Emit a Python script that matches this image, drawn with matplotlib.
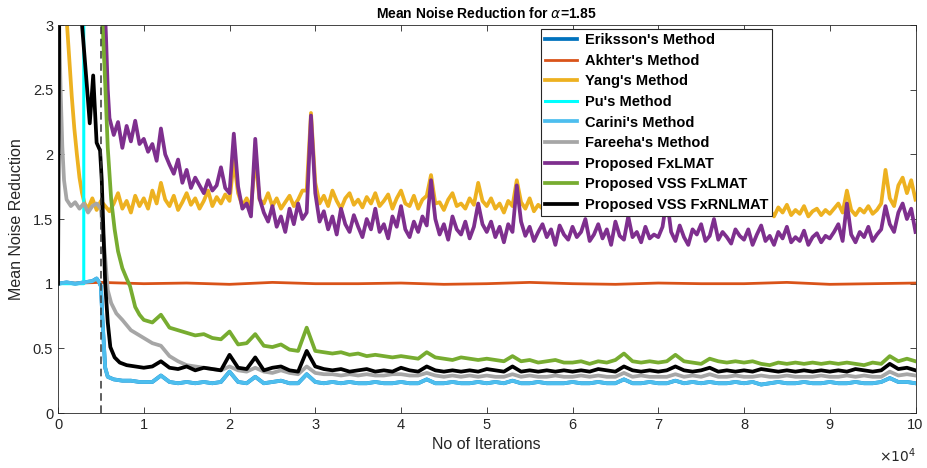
import numpy as np
import matplotlib.pyplot as plt

plt.rcParams['font.family'] = ['Liberation Sans', 'DejaVu Sans']

# sample grids (iterations)
fine_it = np.arange(6000, 100001, 500)      # 189 points
coarse_it = np.arange(10000, 100001, 1000)  # 91 points

# Yang's Method
yang_early_it = [800, 1000, 1300, 1600, 1900, 2200, 2500, 2800, 3100, 3500, 4000, 4500, 5000, 5500]
yang_early = [3.4, 3.05, 2.75, 2.45, 2.2, 2.0, 1.82, 1.7, 1.62, 1.58, 1.66, 1.57, 1.64, 1.6]
yang_tail = [1.56, 1.62, 1.70, 1.58, 1.64, 1.55, 1.68, 1.60,
             1.66, 1.58, 1.72, 1.62, 1.78, 1.65, 1.60, 1.68, 1.57, 1.63, 1.70, 1.61, 1.66, 1.58, 1.64, 1.72, 1.60, 1.67, 1.62, 1.69,
             1.64, 1.95, 1.70, 1.60, 1.66, 1.58, 1.98, 1.65, 1.62, 1.70, 1.60, 1.66, 1.58, 1.63, 1.68, 1.60, 1.65, 1.72, 1.72, 2.32,
             1.78, 1.62, 1.68, 1.60, 1.72, 1.64, 1.58, 1.66, 1.70, 1.61, 1.65, 1.59, 1.67, 1.62, 1.70, 1.60, 1.64, 1.69, 1.58, 1.66,
             1.72, 1.62, 1.60, 1.68, 1.58, 1.65, 1.68, 1.84, 1.62, 1.63, 1.57, 1.65, 1.70, 1.60, 1.62, 1.58, 1.66, 1.61, 1.78, 1.64,
             1.60, 1.66, 1.58, 1.62, 1.55, 1.64, 1.60, 1.80, 1.63, 1.58, 1.66, 1.56, 1.61, 1.58, 1.64, 1.57, 1.62, 1.55, 1.60, 1.58,
             1.62, 1.56, 1.60, 1.66, 1.55, 1.59, 1.63, 1.57, 1.60, 1.54, 1.62, 1.58, 1.56, 1.64, 1.55, 1.60, 1.57, 1.62, 1.54, 1.58,
             1.58, 1.62, 1.72, 1.60, 1.56, 1.62, 1.55, 1.59, 1.64, 1.56, 1.60, 1.54, 1.58, 1.62, 1.55, 1.60, 1.57, 1.53, 1.59, 1.56,
             1.55, 1.60, 1.53, 1.58, 1.62, 1.54, 1.57, 1.52, 1.59, 1.55, 1.61, 1.53, 1.57, 1.54, 1.60, 1.52, 1.56, 1.58, 1.53, 1.57,
             1.54, 1.58, 1.62, 1.55, 1.72, 1.57, 1.53, 1.58, 1.55, 1.60, 1.54, 1.57, 1.62, 1.88, 1.66, 1.60, 1.76, 1.82, 1.70, 1.80,
             1.65]

# Proposed FxLMAT
fxlmat_early_it = [5300, 5600, 5800]
fxlmat_early = [3.4, 2.9, 2.5]
fxlmat_tail = [2.28, 2.15, 2.25, 2.05, 2.22, 2.10, 2.26, 2.08,
               2.12, 2.02, 2.08, 1.95, 2.20, 2.00, 1.92, 1.85, 1.96, 1.78, 1.88, 1.74, 1.82, 1.76, 1.70, 1.80, 1.72, 1.76, 1.90, 1.74,
               1.70, 2.16, 1.75, 1.58, 1.62, 1.52, 2.12, 1.66, 1.55, 1.48, 1.60, 1.44, 1.52, 1.40, 1.58, 1.46, 1.62, 1.50, 1.55, 2.30,
               1.70, 1.48, 1.56, 1.42, 1.52, 1.38, 1.58, 1.46, 1.40, 1.53, 1.44, 1.36, 1.50, 1.42, 1.58, 1.40, 1.46, 1.35, 1.52, 1.44,
               1.60, 1.42, 1.36, 1.48, 1.40, 1.52, 1.45, 1.80, 1.50, 1.38, 1.46, 1.34, 1.52, 1.42, 1.38, 1.48, 1.35, 1.44, 1.62, 1.46,
               1.40, 1.48, 1.36, 1.44, 1.32, 1.46, 1.40, 1.76, 1.48, 1.37, 1.44, 1.33, 1.40, 1.46, 1.36, 1.42, 1.30, 1.45, 1.38, 1.34,
               1.44, 1.36, 1.40, 1.50, 1.33, 1.38, 1.46, 1.35, 1.42, 1.30, 1.48, 1.37, 1.34, 1.52, 1.36, 1.40, 1.32, 1.44, 1.35, 1.38,
               1.36, 1.44, 1.66, 1.40, 1.33, 1.45, 1.36, 1.30, 1.42, 1.38, 1.46, 1.33, 1.37, 1.50, 1.34, 1.40, 1.36, 1.31, 1.42, 1.37,
               1.34, 1.42, 1.30, 1.38, 1.45, 1.33, 1.37, 1.30, 1.40, 1.35, 1.44, 1.32, 1.36, 1.33, 1.41, 1.30, 1.36, 1.39, 1.32, 1.37,
               1.35, 1.40, 1.46, 1.33, 1.62, 1.38, 1.32, 1.40, 1.36, 1.44, 1.33, 1.38, 1.42, 1.60, 1.46, 1.40, 1.55, 1.62, 1.50, 1.58,
               1.40]

# Proposed VSS FxLMAT
vss_early_it = [5100, 5200, 5500, 5800, 6200, 6600, 7000, 7500, 8000, 8400, 9000, 9500]
vss_early = [3.3, 3.0, 2.55, 2.05, 1.65, 1.42, 1.25, 1.12, 1.04, 0.98, 0.82, 0.76]
vss_tail = [0.72, 0.70, 0.76, 0.66, 0.64, 0.62, 0.60, 0.61, 0.58, 0.57,
            0.63, 0.53, 0.54, 0.61, 0.52, 0.51, 0.53, 0.49, 0.48, 0.66,
            0.48, 0.47, 0.46, 0.47, 0.45, 0.46, 0.44, 0.45, 0.44, 0.43,
            0.44, 0.43, 0.42, 0.47, 0.43, 0.42, 0.41, 0.43, 0.42, 0.41,
            0.42, 0.41, 0.40, 0.44, 0.40, 0.41, 0.39, 0.40, 0.41, 0.39,
            0.39, 0.40, 0.38, 0.40, 0.39, 0.41, 0.46, 0.40, 0.39, 0.40,
            0.39, 0.40, 0.45, 0.40, 0.39, 0.38, 0.42, 0.40, 0.39, 0.40,
            0.39, 0.40, 0.38, 0.37, 0.39, 0.38, 0.39, 0.38, 0.39, 0.38,
            0.39, 0.38, 0.39, 0.38, 0.37, 0.39, 0.38, 0.44, 0.40, 0.42,
            0.40]

# Proposed VSS FxRNLMAT
rnl_early_it = [0, 200, 2600, 2800, 3100, 3400, 3700, 4100, 4500, 4900, 5100, 5300, 5500, 5800, 6100, 6600, 7200, 8000, 9000]
rnl_early = [1.0, 4.0, 3.3, 3.0, 2.75, 2.5, 2.24, 2.61, 2.09, 2.03, 1.8, 1.39, 1.0, 0.7, 0.51, 0.43, 0.39, 0.37, 0.36]
rnl_tail = [0.35, 0.36, 0.40, 0.35, 0.34, 0.36, 0.33, 0.35, 0.34, 0.33,
            0.45, 0.35, 0.34, 0.43, 0.33, 0.35, 0.36, 0.33, 0.32, 0.48,
            0.36, 0.34, 0.33, 0.34, 0.32, 0.33, 0.34, 0.32, 0.33, 0.32,
            0.35, 0.33, 0.32, 0.36, 0.33, 0.32, 0.33, 0.32, 0.33, 0.32,
            0.34, 0.33, 0.32, 0.36, 0.32, 0.33, 0.32, 0.33, 0.32, 0.33,
            0.32, 0.33, 0.32, 0.34, 0.33, 0.32, 0.36, 0.33, 0.32, 0.33,
            0.32, 0.33, 0.36, 0.33, 0.32, 0.33, 0.35, 0.32, 0.33, 0.32,
            0.33, 0.32, 0.34, 0.33, 0.32, 0.33, 0.32, 0.33, 0.32, 0.33,
            0.32, 0.33, 0.32, 0.34, 0.33, 0.32, 0.33, 0.38, 0.34, 0.35,
            0.33]

# Fareeha's Method
fareeha_early_it = [0, 300, 500, 700, 1000, 1500, 2000, 2500, 3000, 3500, 4000, 4500, 5000, 5500, 5800, 6200, 6800, 7500, 8500, 9500]
fareeha_early = [3.4, 2.5, 2.06, 1.8, 1.65, 1.6, 1.63, 1.58, 1.62, 1.55, 1.6, 1.62, 1.58, 1.2, 0.95, 0.85, 0.77, 0.72, 0.64, 0.6]
fareeha_tail = [0.58, 0.54, 0.52, 0.44, 0.40, 0.37, 0.36, 0.35, 0.34, 0.33,
                0.36, 0.33, 0.32, 0.35, 0.32, 0.31, 0.33, 0.31, 0.30, 0.36,
                0.31, 0.30, 0.30, 0.29, 0.30, 0.29, 0.30, 0.29, 0.29, 0.30,
                0.30, 0.29, 0.29, 0.31, 0.29, 0.28, 0.29, 0.28, 0.29, 0.28,
                0.29, 0.28, 0.28, 0.30, 0.28, 0.29, 0.28, 0.28, 0.29, 0.28,
                0.28, 0.29, 0.28, 0.29, 0.28, 0.28, 0.31, 0.28, 0.29, 0.28,
                0.28, 0.28, 0.30, 0.28, 0.29, 0.28, 0.30, 0.28, 0.28, 0.29,
                0.28, 0.28, 0.29, 0.28, 0.28, 0.29, 0.28, 0.28, 0.28, 0.29,
                0.28, 0.28, 0.29, 0.28, 0.29, 0.28, 0.28, 0.32, 0.29, 0.30,
                0.29]

# Carini's Method (Eriksson's sits underneath it)
carini_early_it = [0, 1000, 2000, 3000, 4000, 4500, 4800, 5000, 5200, 5500, 5800, 6500, 7500, 8500, 9500]
carini_early = [1.0, 1.01, 1.0, 1.01, 1.02, 1.04, 1.01, 0.98, 0.7, 0.35, 0.28, 0.26, 0.25, 0.25, 0.24]
carini_tail = [0.24, 0.24, 0.29, 0.24, 0.23, 0.24, 0.23, 0.24, 0.23, 0.24,
               0.32, 0.24, 0.23, 0.28, 0.23, 0.24, 0.25, 0.23, 0.23, 0.30,
               0.24, 0.23, 0.24, 0.23, 0.24, 0.23, 0.23, 0.24, 0.23, 0.23,
               0.24, 0.23, 0.23, 0.26, 0.23, 0.23, 0.24, 0.23, 0.23, 0.24,
               0.23, 0.24, 0.23, 0.25, 0.23, 0.23, 0.24, 0.23, 0.23, 0.23,
               0.24, 0.23, 0.23, 0.24, 0.23, 0.23, 0.26, 0.23, 0.23, 0.24,
               0.23, 0.23, 0.25, 0.23, 0.24, 0.23, 0.24, 0.23, 0.23, 0.24,
               0.23, 0.24, 0.22, 0.23, 0.24, 0.23, 0.23, 0.24, 0.23, 0.23,
               0.24, 0.23, 0.23, 0.24, 0.23, 0.23, 0.24, 0.27, 0.24, 0.24,
               0.23]

# Akhter's Method
akhter_it = np.arange(0, 100001, 5000)
akhter = [1.0, 1.01, 1.0, 1.005, 0.995, 1.01, 1.0, 1.0, 1.005, 0.995, 1.0,
          1.01, 1.0, 0.995, 1.005, 1.0, 1.0, 1.01, 0.995, 1.0, 1.005]

# Pu's Method (diverges)
pu_it = [0, 3000, 3050, 100000]
pu = [1.0, 1.0, 60.0, 60.0]

step_it = 5000


def join(e_it, e_y, t_it, t_y):
    return np.concatenate([e_it, t_it]), np.concatenate([e_y, t_y])


fig = plt.figure(figsize=(9.27, 4.68), dpi=100)
ax = fig.add_axes([0.0626, 0.1175, 0.925, 0.829])

lw = 2.7
x, y = join(carini_early_it, carini_early, coarse_it, carini_tail)
ax.plot(x, y, color='#0072BD', lw=lw, label="Eriksson's Method")
ax.plot(akhter_it, akhter, color='#D95319', lw=2.0, label="Akhter's Method")
x, y = join(yang_early_it, yang_early, fine_it, yang_tail)
ax.plot(x, y, color='#EDB120', lw=lw, label="Yang's Method")
ax.plot(pu_it, pu, color='#00FFFF', lw=2.2, label="Pu's Method")
x, y = join(carini_early_it, carini_early, coarse_it, carini_tail)
ax.plot(x, y, color='#4DBEEE', lw=lw, label="Carini's Method")
x, y = join(fareeha_early_it, fareeha_early, coarse_it, fareeha_tail)
ax.plot(x, y, color='#A6A6A6', lw=lw, label="Fareeha's Method")
x, y = join(fxlmat_early_it, fxlmat_early, fine_it, fxlmat_tail)
ax.plot(x, y, color='#7E2F8E', lw=lw, label='Proposed FxLMAT')
x, y = join(vss_early_it, vss_early, coarse_it, vss_tail)
ax.plot(x, y, color='#77AC30', lw=lw, label='Proposed VSS FxLMAT')
x, y = join(rnl_early_it, rnl_early, coarse_it, rnl_tail)
ax.plot(x, y, color='k', lw=lw, label='Proposed VSS FxRNLMAT')
ax.plot([step_it, step_it], [0, 3], ls=(0, (5, 3)), lw=1.1, color='#333333')

ax.set_xlim(0, 100000)
ax.set_ylim(0, 3)
ax.set_xticks(np.arange(0, 100001, 10000))
ax.set_xticklabels([str(i) for i in range(11)])
ax.set_yticks([0, 0.5, 1, 1.5, 2, 2.5, 3])
ax.set_yticklabels(['0', '0.5', '1', '1.5', '2', '2.5', '3'])
ax.tick_params(direction='in', length=4, width=0.6, top=True, right=True,
               labelsize=10.5, colors='#262626')
for s in ax.spines.values():
    s.set_color('#262626')
    s.set_linewidth(0.6)

ax.set_xlabel('No of Iterations', fontsize=11.5, color='#262626', labelpad=4)
ax.set_ylabel('Mean Noise Reduction', fontsize=11.5, color='#262626', labelpad=6)
ax.set_title(r"Mean Noise Reduction for $\alpha$=1.85", fontsize=10, fontweight='bold', pad=5)
ax.text(1.0, -0.085, r'$\times10^4$', transform=ax.transAxes, ha='right', va='top',
        fontsize=10, color='#262626')

leg = ax.legend(loc='upper left', bbox_to_anchor=(0.563, 0.99), borderaxespad=0,
                fancybox=False, edgecolor='#262626', framealpha=1,
                prop={'weight': 'bold', 'size': 10.5}, handlelength=2.2,
                labelspacing=0.45, borderpad=0.3, handletextpad=0.5)
leg.get_frame().set_linewidth(0.8)

fig.savefig('out.png', dpi=100)
